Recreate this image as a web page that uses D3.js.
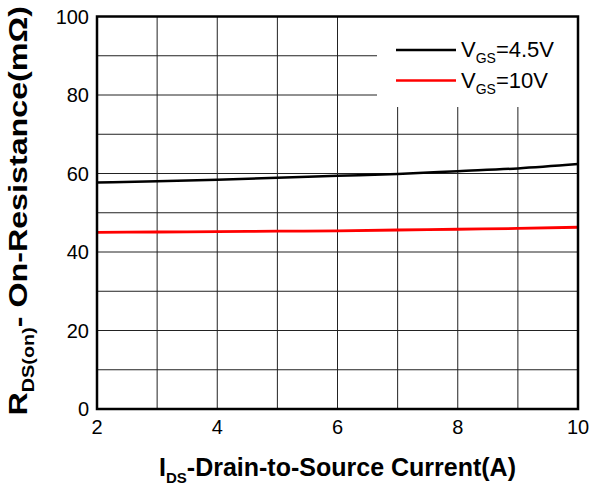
<!DOCTYPE html>
<html>
<head>
<meta charset="utf-8">
<script src="https://cdn.jsdelivr.net/npm/d3@7"></script>
<style>
  body { margin: 0; background: #fff; }
  text { font-family: "Liberation Sans", Arial, sans-serif; }
</style>
</head>
<body>
<div id="chart"></div>
<script>
var ids = [2, 3, 4, 5, 6, 7, 8, 9, 10];
var rds45 = [57.7, 58.0, 58.4, 58.9, 59.4, 59.9, 60.6, 61.3, 62.4];
var rds10 = [45.0, 45.1, 45.2, 45.3, 45.4, 45.6, 45.8, 46.0, 46.3];
var xTicks = [2, 4, 6, 8, 10];
var yTicks = [0, 20, 40, 60, 80, 100];

var width = 590, height = 488;
var margin = {top: 16.5, right: 12, bottom: 79, left: 97};

var svg = d3.select("#chart").append("svg")
    .attr("width", width)
    .attr("height", height);

var x = d3.scaleLinear().domain([2, 10]).range([margin.left, width - margin.right]);
var y = d3.scaleLinear().domain([0, 100]).range([height - margin.bottom, margin.top]);

var g = svg.append("g");

// grid
g.selectAll(".vgrid")
    .data(d3.range(3, 10))
    .enter().append("line")
    .attr("x1", function(d){ return x(d); })
    .attr("x2", function(d){ return x(d); })
    .attr("y1", y(0))
    .attr("y2", y(100))
    .attr("stroke", "#222")
    .attr("stroke-width", 1);

g.selectAll(".hgrid")
    .data(d3.range(10, 100, 10))
    .enter().append("line")
    .attr("x1", x(2))
    .attr("x2", x(10))
    .attr("y1", function(d){ return y(d); })
    .attr("y2", function(d){ return y(d); })
    .attr("stroke", "#222")
    .attr("stroke-width", 1);

// legend background hides the grid behind it
g.append("rect")
    .attr("x", 377)
    .attr("y", y(100))
    .attr("width", x(10) - 377)
    .attr("height", 107 - y(100))
    .attr("fill", "#fff");

var line = d3.line()
    .x(function(d){ return x(d[0]); })
    .y(function(d){ return y(d[1]); })
    .curve(d3.curveMonotoneX);

g.append("path")
    .datum(d3.zip(ids, rds45))
    .attr("d", line)
    .attr("fill", "none")
    .attr("stroke", "#000")
    .attr("stroke-width", 2.5);

g.append("path")
    .datum(d3.zip(ids, rds10))
    .attr("d", line)
    .attr("fill", "none")
    .attr("stroke", "#ff0000")
    .attr("stroke-width", 2.8);

// frame
g.append("rect")
    .attr("x", x(2))
    .attr("y", y(100))
    .attr("width", x(10) - x(2))
    .attr("height", y(0) - y(100))
    .attr("fill", "none")
    .attr("stroke", "#000")
    .attr("stroke-width", 2.5);

// tick labels
g.selectAll(".xlab")
    .data(xTicks)
    .enter().append("text")
    .attr("x", function(d){ return x(d); })
    .attr("y", y(0) + 25)
    .attr("text-anchor", "middle")
    .attr("font-size", 20)
    .text(function(d){ return d; });

g.selectAll(".ylab")
    .data(yTicks)
    .enter().append("text")
    .attr("x", x(2) - 8)
    .attr("y", function(d){ return y(d) + 7; })
    .attr("text-anchor", "end")
    .attr("font-size", 20)
    .text(function(d){ return d; });

// legend
var legend = [
    {label: "4.5V", color: "#000", yy: 50},
    {label: "10V", color: "#ff0000", yy: 80.5}
];
legend.forEach(function(l){
    g.append("line")
        .attr("x1", 396).attr("x2", 456)
        .attr("y1", l.yy).attr("y2", l.yy)
        .attr("stroke", l.color)
        .attr("stroke-width", 2.5);
    var t = g.append("text")
        .attr("x", 461)
        .attr("y", l.yy + 7)
        .attr("font-size", 22);
    t.append("tspan").text("V");
    t.append("tspan").attr("font-size", 14).attr("dy", 6).text("GS");
    t.append("tspan").attr("dy", -6).text("=" + l.label);
});

// axis titles
var xt = svg.append("text")
    .attr("x", (x(2) + x(10)) / 2)
    .attr("y", 476)
    .attr("text-anchor", "middle")
    .attr("font-size", 25)
    .attr("font-weight", "bold");
xt.append("tspan").text("I");
xt.append("tspan").attr("font-size", 15).attr("dy", 7).text("DS");
xt.append("tspan").attr("dy", -7).text("-Drain-to-Source Current(A)");

// the original label is stretched along its length
var yt = svg.append("text")
    .attr("transform", "translate(27," + ((y(0) + y(100)) / 2 - 2) + ") rotate(-90) scale(1.24,1)")
    .attr("text-anchor", "middle")
    .attr("font-size", 26)
    .attr("font-weight", "bold");
yt.append("tspan").text("R");
yt.append("tspan").attr("font-size", 16).attr("dy", 7).text("DS(on)");
yt.append("tspan").attr("dy", -7).text("-  On-Resistance(m\u03A9)");
</script>
</body>
</html>
